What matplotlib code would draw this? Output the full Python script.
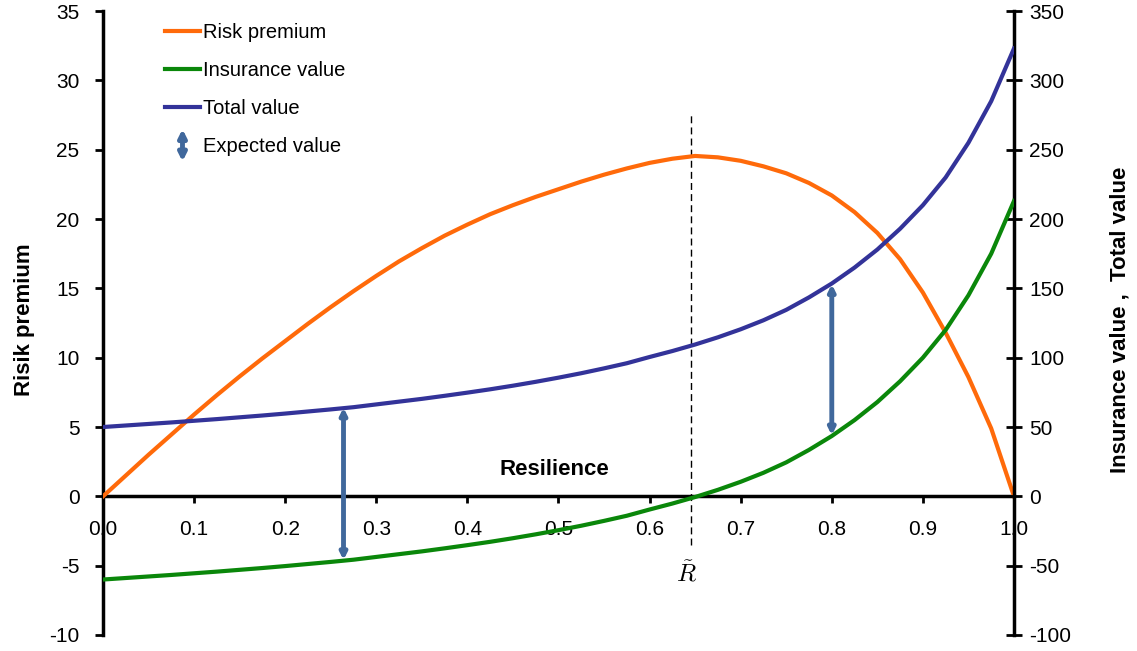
"""
Risk premium / insurance value / total value vs resilience
"""
import matplotlib
matplotlib.use('Agg')
import matplotlib.pyplot as plt
import matplotlib.patches as mpatches
from matplotlib.lines import Line2D
from matplotlib.legend_handler import HandlerBase

plt.rcParams['font.family'] = ['Liberation Sans', 'DejaVu Sans']
plt.rcParams['mathtext.fontset'] = 'cm'
plt.rcParams['axes.unicode_minus'] = False

# ---- data ----
resilience = [0.0, 0.025, 0.05, 0.075, 0.1, 0.125, 0.15, 0.175, 0.2, 0.225,
              0.25, 0.275, 0.3, 0.325, 0.35, 0.375, 0.4, 0.425, 0.45, 0.475,
              0.5, 0.525, 0.55, 0.575, 0.6, 0.625, 0.65, 0.675, 0.7, 0.725,
              0.75, 0.775, 0.8, 0.825, 0.85, 0.875, 0.9, 0.925, 0.95, 0.975, 1.0]
risk_premium = [0.0, 1.5, 3.0, 4.45, 5.9, 7.3, 8.65, 9.95, 11.2, 12.45,
                13.65, 14.8, 15.9, 16.95, 17.9, 18.8, 19.6, 20.35, 21.0, 21.6,
                22.15, 22.7, 23.2, 23.65, 24.05, 24.35, 24.55, 24.45, 24.2, 23.8,
                23.3, 22.6, 21.7, 20.5, 19.0, 17.1, 14.7, 11.8, 8.6, 4.9, 0.0]
insurance_value = [-60.0, -58.9, -57.8, -56.7, -55.5, -54.3, -53.0, -51.7, -50.3, -48.8,
                   -47.3, -45.7, -43.7, -41.7, -39.7, -37.5, -35.2, -32.8, -30.2, -27.4,
                   -24.4, -21.2, -17.7, -14.0, -9.5, -5.2, -0.5, 4.7, 10.5, 17.0,
                   24.5, 33.5, 43.5, 55.0, 68.0, 83.0, 100.0, 120.0, 145.0, 175.0, 213.0]
total_value = [50.0, 51.1, 52.2, 53.3, 54.5, 55.7, 57.0, 58.3, 59.7, 61.2,
               62.7, 64.3, 66.3, 68.3, 70.3, 72.5, 74.8, 77.2, 79.8, 82.6,
               85.6, 88.8, 92.3, 96.0, 100.5, 104.8, 109.5, 114.7, 120.5, 127.0,
               134.5, 143.5, 153.5, 165.0, 178.0, 193.0, 210.0, 230.0, 255.0, 285.0, 323.0]

# expected-value arrows (x, bottom, top) on the right axis
arrow_x = [0.264, 0.80]
arrow_low = [-46, 44]
arrow_high = [64, 153]

r_tilde = 0.646

orange = '#FF6A0A'
green = '#0A870A'
blue = '#333399'
arrow_col = '#40689C'


class ArrowHandler(HandlerBase):
    def create_artists(self, legend, orig_handle, xdescent, ydescent,
                       width, height, fontsize, trans):
        cx = width / 2 - xdescent
        cy = height / 2 - ydescent
        a = mpatches.FancyArrowPatch((cx, cy - 1.15 * height), (cx, cy + 1.15 * height),
                                     arrowstyle='<|-|>', mutation_scale=11,
                                     shrinkA=0, shrinkB=0,
                                     lw=3.5, color=arrow_col, transform=trans)
        return [a]


fig = plt.figure(figsize=(11.37, 6.51), dpi=100)
ax = fig.add_axes([0.0906, 0.0246, 0.8012, 0.9584])
ax2 = ax.twinx()

ax.set_xlim(0, 1)
ax.set_ylim(-10, 35)
ax2.set_ylim(-100, 350)

# left axis: risk premium
ax.plot(resilience, risk_premium, color=orange, lw=3, zorder=3)
# right axis: insurance and total value
ax2.plot(resilience, insurance_value, color=green, lw=3, zorder=3)
ax2.plot(resilience, total_value, color=blue, lw=3, zorder=3)

for x, lo, hi in zip(arrow_x, arrow_low, arrow_high):
    ax2.annotate('', xy=(x, hi), xytext=(x, lo),
                 arrowprops=dict(arrowstyle='<|-|>', color=arrow_col, lw=3.5,
                                 mutation_scale=9, shrinkA=0, shrinkB=0))

ax.plot([r_tilde, r_tilde], [-3.5, 27.5], color='black', lw=1, ls=(0, (5, 3)))
ax.text(r_tilde - 0.005, -5.6, r'$\tilde{R}$', fontsize=18, ha='center', va='center')
ax.text(0.496, 1.9, 'Resilience', fontsize=16, fontweight='bold', ha='center', va='center')

# spines
for a in (ax, ax2):
    a.spines['top'].set_visible(False)
ax.spines['right'].set_visible(False)
ax2.spines['left'].set_visible(False)
ax2.spines['bottom'].set_visible(False)
ax.spines['bottom'].set_position(('data', 0))
for s in (ax.spines['left'], ax.spines['bottom'], ax2.spines['right']):
    s.set_linewidth(2.5)

ax.set_xticks([0, 0.1, 0.2, 0.3, 0.4, 0.5, 0.6, 0.7, 0.8, 0.9, 1.0])
ax.set_xticklabels(['0.0', '0.1', '0.2', '0.3', '0.4', '0.5', '0.6', '0.7', '0.8', '0.9', '1.0'])
ax.set_yticks(range(-10, 36, 5))
ax2.set_yticks(range(-100, 351, 50))
ax.tick_params(axis='x', direction='out', length=5, width=2, labelsize=15, pad=12)
ax.tick_params(axis='y', direction='out', length=6, width=2, labelsize=15, pad=11)
ax2.tick_params(axis='y', direction='inout', length=12, width=2, labelsize=15, pad=5)

ax.set_ylabel('Risik premium', fontsize=16, fontweight='bold')
ax.yaxis.set_label_coords(-0.0746, 0.505)
ax2.set_ylabel('Insurance value ,  Total value', fontsize=16, fontweight='bold')
ax2.yaxis.set_label_coords(1.105, 0.505)

handles = [Line2D([], [], color=orange, lw=3),
           Line2D([], [], color=green, lw=3),
           Line2D([], [], color=blue, lw=3),
           mpatches.Patch(color=arrow_col)]
labels = ['Risk premium', 'Insurance value', 'Total value', 'Expected value']
ax.legend(handles, labels, loc='upper left', bbox_to_anchor=(0.048, 1.01),
          frameon=False, fontsize=14.5, handlelength=1.75, handletextpad=0.15,
          labelspacing=0.95, handler_map={handles[3]: ArrowHandler()})

plt.savefig('out.png', dpi=100, facecolor='white')
